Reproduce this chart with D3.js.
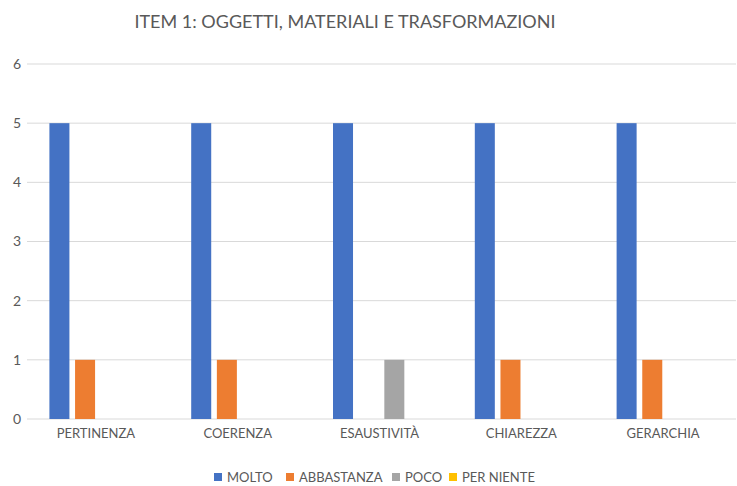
<!DOCTYPE html>
<html>
<head>
<meta charset="utf-8">
<script src="https://cdn.jsdelivr.net/npm/d3@7"></script>
<style>
  body { margin: 0; background: #fff; }
  text { font-family: Lato, "Open Sans", sans-serif; fill: #595959; }
</style>
</head>
<body>
<script>
// chart data
var categories = ["PERTINENZA", "COERENZA", "ESAUSTIVITÀ", "CHIAREZZA", "GERARCHIA"];
var seriesNames = ["MOLTO", "ABBASTANZA", "POCO", "PER NIENTE"];
var molto = [5, 5, 5, 5, 5];
var abbastanza = [1, 1, 0, 1, 1];
var poco = [0, 0, 1, 0, 0];
var perNiente = [0, 0, 0, 0, 0];
var yTicks = [0, 1, 2, 3, 4, 5, 6];
var colors = ["#4472C4", "#ED7D31", "#A5A5A5", "#FFC000"];

var seriesValues = [molto, abbastanza, poco, perNiente];

var width = 737, height = 486;

var svg = d3.select("body")
    .append("svg")
    .attr("width", width)
    .attr("height", height);

var x0 = d3.scaleBand()
    .domain(categories)
    .range([27, 736])
    .paddingInner(0.316)
    .paddingOuter(0.158);

var x1 = d3.scaleBand()
    .domain(seriesNames)
    .range([0, x0.bandwidth()])
    .paddingInner(0.22);

var y = d3.scaleLinear()
    .domain([0, 6])
    .range([419, 64]);

// title
svg.append("text")
    .attr("x", 345)
    .attr("y", 28)
    .attr("text-anchor", "middle")
    .attr("font-size", "18px")
    .text("ITEM 1: OGGETTI, MATERIALI E TRASFORMAZIONI");

// gridlines
svg.append("g")
    .selectAll("line")
    .data(yTicks)
    .enter().append("line")
        .attr("x1", 27)
        .attr("x2", 736)
        .attr("y1", function(d) { return y(d); })
        .attr("y2", function(d) { return y(d); })
        .attr("stroke", "#d9d9d9")
        .attr("stroke-width", 1);

// y labels
svg.append("g")
    .selectAll("text")
    .data(yTicks)
    .enter().append("text")
        .attr("x", 21)
        .attr("y", function(d) { return y(d); })
        .attr("dy", "0.35em")
        .attr("text-anchor", "end")
        .attr("font-size", "14px")
        .text(function(d) { return d; });

// bars
var groups = svg.append("g")
    .selectAll("g")
    .data(categories)
    .enter().append("g")
        .attr("transform", function(d) { return "translate(" + x0(d) + ",0)"; });

groups.selectAll("rect")
    .data(function(d, i) {
        return seriesNames.map(function(s, j) {
            return {series: s, value: seriesValues[j][i], color: colors[j]};
        });
    })
    .enter().append("rect")
        .attr("x", function(d) { return x1(d.series); })
        .attr("width", x1.bandwidth())
        .attr("y", function(d) { return y(d.value); })
        .attr("height", function(d) { return y(0) - y(d.value); })
        .attr("fill", function(d) { return d.color; });

// category labels
svg.append("g")
    .selectAll("text")
    .data(categories)
    .enter().append("text")
        .attr("x", function(d) { return x0(d) + x0.bandwidth() / 2 - 2; })
        .attr("y", 438)
        .attr("text-anchor", "middle")
        .attr("font-size", "13px")
        .text(function(d) { return d; });

// legend
var legendX = [214, 286, 392, 449];
var legend = svg.append("g")
    .selectAll("g")
    .data(seriesNames)
    .enter().append("g")
        .attr("transform", function(d, i) { return "translate(" + legendX[i] + ",473)"; });

legend.append("rect")
    .attr("width", 8)
    .attr("height", 8)
    .attr("fill", function(d, i) { return colors[i]; });

legend.append("text")
    .attr("x", 13)
    .attr("y", 4)
    .attr("dy", "0.35em")
    .attr("font-size", "13px")
    .text(function(d) { return d; });
</script>
</body>
</html>
